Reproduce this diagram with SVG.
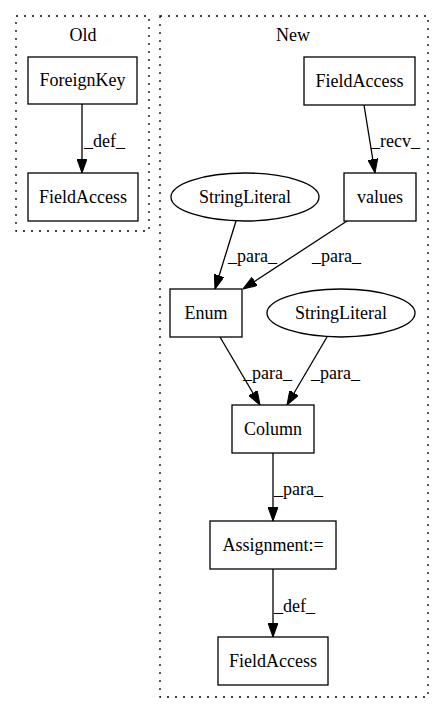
<svg xmlns="http://www.w3.org/2000/svg" width="443" height="712" viewBox="0 0 443 712">
<style>
text{font-family:"Liberation Serif","Times New Roman",serif;font-size:18px;fill:#000;text-anchor:middle}
.lbl{text-anchor:start}
.cl{fill:none;stroke:#000;stroke-width:1.3;stroke-dasharray:2,6}
.n{fill:#fff;stroke:#000;stroke-width:1.3}
.e{fill:none;stroke:#000;stroke-width:1.3;marker-end:url(#ah)}
</style>
<defs>
<marker id="ah" viewBox="0 0 14 10" refX="14" refY="5" markerWidth="14" markerHeight="10" markerUnits="userSpaceOnUse" orient="auto">
<path d="M0,0 L14,5 L0,10 Z" fill="#000" stroke="#000" stroke-width="1"/>
</marker>
</defs>
<rect width="443" height="712" fill="#fff"/>
<g id="cluster_old">
<rect class="cl" x="16" y="16" width="133" height="215"/>
<text x="83" y="41">Old</text>
</g>
<g id="cluster_new">
<rect class="cl" x="160" y="16" width="268" height="681"/>
<text x="293" y="41">New</text>
</g>
<g id="edges">
<line class="e" x1="82" y1="104" x2="82" y2="173"/>
<text class="lbl" x="84" y="147">_def_</text>
<line class="e" x1="364" y1="105" x2="375" y2="173"/>
<text class="lbl" x="371" y="147">_recv_</text>
<line class="e" x1="236" y1="221" x2="215" y2="289"/>
<text class="lbl" x="228" y="262">_para_</text>
<line class="e" x1="347" y1="221" x2="243" y2="289"/>
<text class="lbl" x="312" y="262">_para_</text>
<line class="e" x1="220" y1="337" x2="260" y2="405"/>
<text class="lbl" x="243" y="379">_para_</text>
<line class="e" x1="327" y1="337" x2="287" y2="405"/>
<text class="lbl" x="311" y="379">_para_</text>
<line class="e" x1="273" y1="453" x2="273" y2="521"/>
<text class="lbl" x="274" y="495">_para_</text>
<line class="e" x1="273" y1="569" x2="273" y2="637"/>
<text class="lbl" x="274" y="612">_def_</text>
</g>
<g id="foreignkey_old">
<rect class="n" x="28" y="57" width="109" height="47"/>
<text x="82.5" y="86">ForeignKey</text>
</g>
<g id="fieldaccess_old">
<rect class="n" x="28" y="173" width="110" height="48"/>
<text x="83" y="203">FieldAccess</text>
</g>
<g id="fieldaccess_top">
<rect class="n" x="304" y="57" width="111" height="48"/>
<text x="359.5" y="87">FieldAccess</text>
</g>
<g id="values">
<rect class="n" x="344" y="173" width="72" height="48"/>
<text x="380" y="203">values</text>
</g>
<g id="stringliteral1">
<ellipse class="n" cx="245" cy="197" rx="74" ry="24"/>
<text x="245" y="203">StringLiteral</text>
</g>
<g id="enum">
<rect class="n" x="170" y="289" width="72" height="48"/>
<text x="206" y="319">Enum</text>
</g>
<g id="stringliteral2">
<ellipse class="n" cx="341" cy="313" rx="74" ry="24"/>
<text x="341" y="319">StringLiteral</text>
</g>
<g id="column">
<rect class="n" x="232" y="405" width="82" height="48"/>
<text x="273" y="435">Column</text>
</g>
<g id="assignment">
<rect class="n" x="210" y="521" width="126" height="48"/>
<text x="273" y="551">Assignment:=</text>
</g>
<g id="fieldaccess_bottom">
<rect class="n" x="218" y="637" width="110" height="48"/>
<text x="273" y="667">FieldAccess</text>
</g>
</svg>
